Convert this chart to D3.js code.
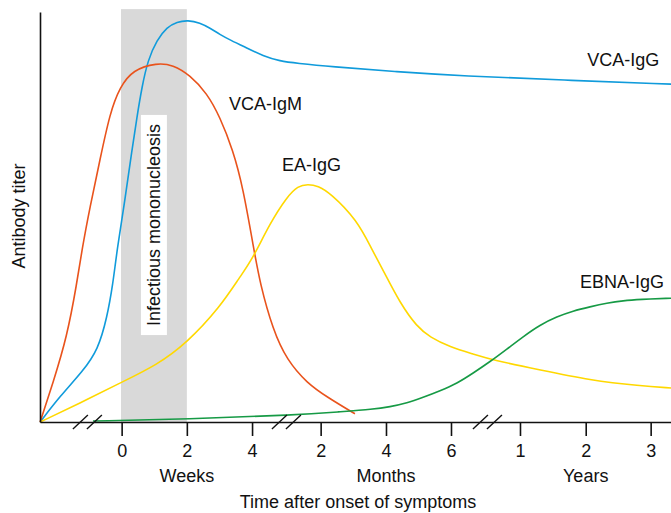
<!DOCTYPE html>
<html>
<head>
<meta charset="utf-8">
<script src="https://cdn.jsdelivr.net/npm/d3@7"></script>
<style>
  html, body { margin: 0; padding: 0; background: #fff; }
  svg { display: block; font-family: "Liberation Sans", Arial, Helvetica, sans-serif; }
</style>
</head>
<body>
<svg id="chart" width="671" height="513"></svg>
<script>
// ---- data (x in axis "slot" units: 1 slot = 2 weeks / 2 months / 1 year; y in relative titer 0-100)
const tickSlots  = [0, 1, 2, 3.052, 4.054, 5.051, 6.109, 7.117, 8.113];
const tickLabels = ["0", "2", "4", "2", "4", "6", "1", "2", "3"];
const groupSlots = [1, 4.054, 7.117];
const groupLabels = ["Weeks", "Months", "Years"];
const breakSlots = [-0.525, 2.527, 5.61];
const illnessBand = [-0.01, 1.0];

const vcaIgG = [
  [-1.25, 0], [-0.946, 6.3], [-0.594, 12.4], [-0.363, 17.6], [-0.225, 25.4], [-0.133, 33.7],
  [-0.072, 41.9], [0.051, 54.1], [0.158, 66.3], [0.235, 74.4], [0.311, 81.7], [0.403, 88.3],
  [0.541, 93.2], [0.695, 96.3], [0.848, 97.6], [1.017, 98.0], [1.201, 97.4], [1.354, 96.1],
  [1.508, 94.5], [1.661, 93.2], [1.922, 91.2], [2.167, 89.3], [2.428, 88.0], [2.689, 87.5],
  [3.195, 86.7], [4.222, 85.4], [5.235, 84.4], [6.768, 83.4], [8.425, 82.4]
];
const vcaIgM = [
  [-1.25, 0], [-1.054, 9.5], [-0.839, 20.7], [-0.686, 33.9], [-0.609, 42.0], [-0.486, 52.4],
  [-0.333, 63.9], [-0.179, 75.4], [-0.026, 81.7], [0.173, 85.9], [0.541, 87.6], [0.787, 87.1],
  [1.048, 84.6], [1.308, 80.2], [1.508, 74.4], [1.707, 66.3], [1.860, 57.3], [2.029, 42.0],
  [2.121, 33.9], [2.321, 22.4], [2.535, 15.1], [2.842, 9.5], [3.149, 6.1], [3.578, 2.0]
];
const eaIgG = [
  [-1.25, 0], [-0.640, 4.6], [-0.026, 9.5], [0.541, 13.9], [1.002, 19.3], [1.508, 28.0],
  [1.814, 35.4], [1.998, 39.5], [2.275, 48.5], [2.535, 54.9], [2.704, 57.6], [2.857, 58.0],
  [3.011, 57.6], [3.195, 55.9], [3.609, 49.3], [3.840, 42.0], [4.008, 37.1], [4.269, 29.0],
  [4.530, 23.2], [4.729, 20.7], [5.035, 18.3], [5.388, 16.6], [5.695, 15.1], [6.416, 12.7],
  [7.183, 10.2], [7.949, 8.8], [8.425, 8.3]
];
const ebnaIgG = [
  [-0.440, 0.24], [1.002, 0.73], [2.689, 1.7], [3.348, 2.5], [3.854, 3.1], [4.115, 3.7],
  [4.376, 4.6], [4.621, 6.0], [4.882, 7.6], [5.143, 9.4], [5.388, 11.9], [5.649, 14.7],
  [5.910, 17.8], [6.155, 20.8], [6.416, 23.7], [6.676, 25.7], [6.922, 27.1], [7.183, 28.1],
  [7.443, 29.0], [7.689, 29.6], [7.949, 29.9], [8.425, 30.2]
];
const seriesNames = ["VCA-IgG", "VCA-IgM", "EA-IgG", "EBNA-IgG"];
const seriesData = [vcaIgG, vcaIgM, eaIgG, ebnaIgG];

// ---- styling / layout
const colors = ["#109bdb", "#e9531c", "#ffd800", "#169a45"];
const labelPos = [[7.139, 86.8], [1.645, 76.1], [2.459, 61.2], [7.03, 32.7]]; // slot, titer (text start, baseline)
const svg = d3.select("#chart");

const x = d3.scaleLinear().domain([-1.252, 8.425]).range([40, 671]);
const y = d3.scaleLinear().domain([0, 100]).range([422, 12]);

// shaded band
const bandTop = 100.7;
svg.append("rect")
  .attr("x", x(illnessBand[0])).attr("width", x(illnessBand[1]) - x(illnessBand[0]))
  .attr("y", y(bandTop)).attr("height", y(0) - y(bandTop))
  .attr("fill", "#d9d9d9");

// band label with white box
const bandMid = (illnessBand[0] + illnessBand[1]) / 2;
const bandLabelG = svg.append("g")
  .attr("transform", `translate(${x(bandMid)},${225}) rotate(-90)`);
const bandBox = bandLabelG.append("rect").attr("fill", "#fff");
const bandText = bandLabelG.append("text")
  .attr("text-anchor", "middle").attr("y", 6.5)
  .attr("font-size", 18).attr("fill", "#111")
  .text("Infectious mononucleosis");
const bb = bandText.node().getBBox();
bandBox.attr("x", bb.x - 9).attr("width", bb.width + 18).attr("y", -13).attr("height", 26);

// curves
const line = d3.line().x(d => x(d[0])).y(d => y(d[1])).curve(d3.curveBasis);
seriesData.forEach((s, i) => {
  svg.append("path").datum(s)
    .attr("d", line)
    .attr("fill", "none")
    .attr("stroke", colors[i])
    .attr("stroke-width", 1.6)
    .attr("stroke-linejoin", "round");
});

// series labels
seriesNames.forEach((n, i) => {
  svg.append("text")
    .attr("x", x(labelPos[i][0])).attr("y", y(labelPos[i][1]))
    .attr("font-size", 18).attr("fill", "#111")
    .text(n);
});

// axes
const xAxis = d3.axisBottom(x)
  .tickValues(tickSlots)
  .tickFormat((d, i) => tickLabels[i])
  .tickSize(14).tickSizeOuter(0).tickPadding(8);
const gx = svg.append("g").attr("transform", `translate(0,${y(0)})`).call(xAxis);
gx.selectAll("text").attr("font-size", 18).attr("font-family", "Liberation Sans, Arial, sans-serif").attr("fill", "#111");
gx.selectAll("line, path").attr("stroke", "#111").attr("stroke-width", 1.6);

const yAxis = d3.axisLeft(y).tickValues([]).tickSizeOuter(0);
const gy = svg.append("g").attr("transform", `translate(${x(-1.252)},0)`).call(yAxis);
gy.selectAll("path").attr("stroke", "#111").attr("stroke-width", 1.6);

// axis breaks (double slashes)
breakSlots.forEach(b => {
  [-7, 7].forEach(off => {
    const cx = x(b) + off;
    svg.append("line")
      .attr("x1", cx - 7.5).attr("y1", y(0) + 7)
      .attr("x2", cx + 7.5).attr("y2", y(0) - 7)
      .attr("stroke", "#111").attr("stroke-width", 1.4);
  });
});

// group labels
groupLabels.forEach((g, i) => {
  svg.append("text")
    .attr("x", x(groupSlots[i])).attr("y", 482)
    .attr("text-anchor", "middle").attr("font-size", 18).attr("fill", "#111")
    .text(g);
});

// axis titles
svg.append("text")
  .attr("x", 358).attr("y", 508)
  .attr("text-anchor", "middle").attr("font-size", 18).attr("fill", "#111")
  .text("Time after onset of symptoms");

svg.append("text")
  .attr("transform", `translate(25,216) rotate(-90)`)
  .attr("text-anchor", "middle").attr("font-size", 18).attr("fill", "#111")
  .text("Antibody titer");
</script>
</body>
</html>
